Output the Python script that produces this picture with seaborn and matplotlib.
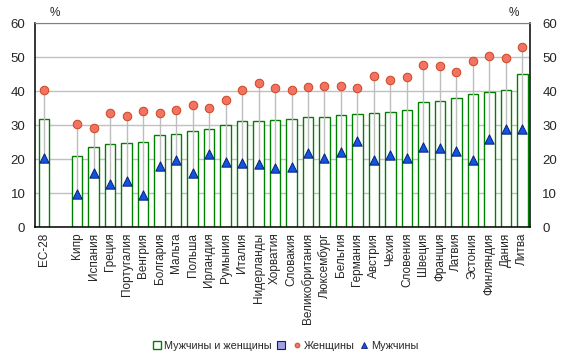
import numpy as np
import pandas as pd
import seaborn as sns
import matplotlib.pyplot as plt
from matplotlib.lines import Line2D
from matplotlib.patches import Patch

# Data (%)
countries = ['ЕС-28', '', 'Кипр', 'Испания', 'Греция', 'Португалия', 'Венгрия',
             'Болгария', 'Мальта', 'Польша', 'Ирландия', 'Румыния', 'Италия',
             'Нидерланды', 'Хорватия', 'Словакия', 'Великобритания', 'Люксембург',
             'Бельгия', 'Германия', 'Австрия', 'Чехия', 'Словения', 'Швеция',
             'Франция', 'Латвия', 'Эстония', 'Финляндия', 'Дания', 'Литва']
total = [31.8, np.nan, 21.0, 23.6, 24.4, 24.7, 25.0, 27.1, 27.4, 28.2, 28.8, 30.0,
         31.2, 31.2, 31.5, 31.8, 32.4, 32.4, 32.9, 33.2, 33.5, 33.8, 34.4, 36.8,
         37.1, 37.9, 39.1, 39.7, 40.3, 45.0]
women = [40.4, np.nan, 30.4, 29.2, 33.6, 32.8, 34.0, 33.6, 34.3, 36.0, 35.1, 37.3,
         40.4, 42.5, 40.8, 40.4, 41.2, 41.6, 41.6, 40.8, 44.5, 43.3, 44.2, 47.7,
         47.5, 45.5, 48.9, 50.4, 49.8, 53.1]
men = [20.4, np.nan, 9.8, 15.9, 12.6, 13.5, 9.6, 17.9, 19.7, 15.9, 21.4, 19.3,
       18.8, 18.6, 17.3, 17.8, 21.8, 20.3, 22.0, 25.2, 19.6, 21.1, 20.4, 23.7,
       23.4, 22.5, 19.6, 25.9, 29.0, 29.0]

df = pd.DataFrame({'country': countries, 'total': total, 'women': women, 'men': men})
df['pos'] = np.arange(len(df))
d = df.dropna()

sns.set_style('white')
plt.rcParams['font.family'] = ['Liberation Sans', 'DejaVu Sans']

GREEN = '#008000'
SALMON = '#F47264'
SALMON_EDGE = '#C8481E'
BLUE = '#1055E0'
NAVY = '#0A1E78'
FS = 8.5

fig = plt.figure(figsize=(5.66, 3.6), dpi=100)
ax = fig.add_axes([0.062, 0.369, 0.874, 0.567])

sns.barplot(data=d, x='pos', y='total', native_scale=True, width=0.64,
            color='white', edgecolor=GREEN, linewidth=1.0, ax=ax, zorder=2)

ax.vlines(d['pos'], d['men'], d['women'], color='#BDBDBD', lw=1.0, zorder=3)

sns.scatterplot(data=d, x='pos', y='women', marker='o', s=38, color=SALMON,
                edgecolor=SALMON_EDGE, linewidth=0.7, ax=ax, zorder=4)
sns.scatterplot(data=d, x='pos', y='men', marker='^', s=45, color=BLUE,
                edgecolor=NAVY, linewidth=0.7, ax=ax, zorder=5)

ax.set_xlim(-0.55, 29.45)
ax.set_ylim(0, 60)
ax.set_yticks(range(0, 61, 10))
ax.yaxis.grid(True, color='#C0C0C0', lw=1)
ax.set_axisbelow(True)
ax.set_xticks(df['pos'])
ax.set_xticklabels(df['country'], rotation=90, fontsize=FS)
ax.tick_params(axis='x', length=0, pad=4)
ax.tick_params(axis='y', labelsize=9.5, length=0, pad=7)
ax.set_xlabel('')
ax.set_ylabel('')

for side in ['left', 'bottom', 'right']:
    ax.spines[side].set_color('black')
    ax.spines[side].set_linewidth(1.1)
ax.spines['top'].set_color('#808080')

ax2 = ax.twinx()
ax2.set_ylim(0, 60)
ax2.set_yticks(range(0, 61, 10))
ax2.tick_params(axis='y', labelsize=9.5, length=0, pad=9)
for s in ax2.spines.values():
    s.set_visible(False)

fig.text(0.097, 0.955, '%', fontsize=FS, ha='center')
fig.text(0.908, 0.955, '%', fontsize=FS, ha='center')

handles = [
    Patch(facecolor='white', edgecolor=GREEN, lw=1),
    Patch(facecolor='#A0A0E8', edgecolor=NAVY, lw=0.8),
    Line2D([], [], marker='o', ls='', ms=3.5, color=SALMON, mec=SALMON_EDGE, mew=0.6),
    Line2D([], [], marker='^', ls='', ms=4, color=BLUE, mec=NAVY, mew=0.6),
]
labels = ['Мужчины и женщины', '', 'Женщины', 'Мужчины']
fig.legend(handles, labels, loc='center', bbox_to_anchor=(0.505, 0.04), ncol=4,
           frameon=False, fontsize=7.8, handlelength=0.7, handleheight=0.7,
           handletextpad=0.3, columnspacing=0.5)

fig.savefig('out.png', dpi=100, facecolor='white')
